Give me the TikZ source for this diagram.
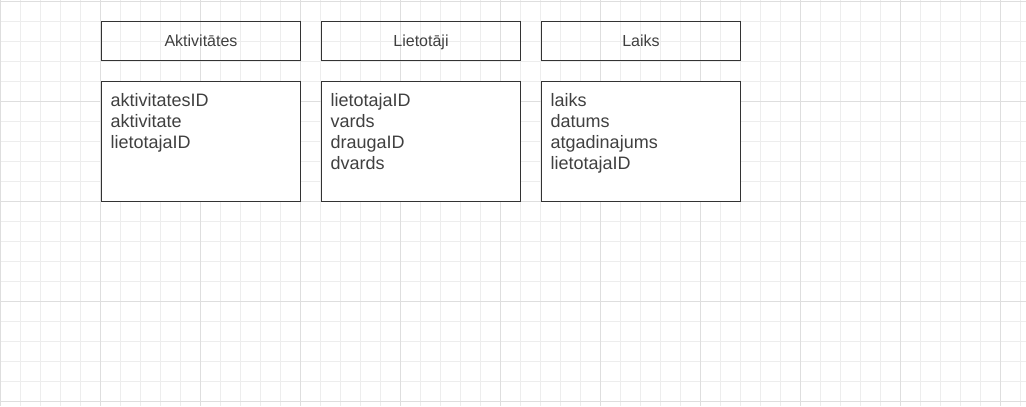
\documentclass[tikz,border=0pt]{standalone}
\usepackage{fontspec}
\setmainfont{Liberation Sans}
\usepackage{tikz}
\usetikzlibrary{positioning}
\definecolor{gridminor}{HTML}{EDEDED}
\definecolor{gridmajor}{HTML}{DEDEDE}
\definecolor{ink}{HTML}{333333}
\definecolor{label}{HTML}{404040}
\tikzset{%
	entity/.style={draw=ink, line width=1bp, rectangle, minimum width=199bp,%
		outer sep=0pt, inner sep=0pt},
	head/.style={entity, minimum height=39bp, text=label,%
		font=\fontsize{16bp}{19bp}\selectfont, text height=11.5bp, text depth=0bp},
	body/.style={entity, minimum height=120bp},
	fields/.style={anchor=north west, inner xsep=9bp, inner ysep=12bp, align=left,%
		text=label, font=\fontsize{18bp}{20.75bp}\selectfont},
	minor/.style={draw=gridminor, line width=1bp},
	major/.style={draw=gridmajor, line width=1bp}
}
\begin{document}
\begin{tikzpicture}[x=1bp, y=1bp, node distance=21bp and 21bp]
			\useasboundingbox (0,0) rectangle (1026,-406);
			\fill[white] (0,0) rectangle (1026,-406);
			\foreach \x in {0,20,...,1020} \draw[minor] (\x+0.5,0) -- (\x+0.5,-406);
			\foreach \y in {1,21,...,401} \draw[minor] (0,-\y-0.5) -- (1026,-\y-0.5);
			\foreach \x in {0,100,...,1000} \draw[major] (\x+0.5,0) -- (\x+0.5,-406);
			\foreach \y in {1,101,...,401} \draw[major] (0,-\y-0.5) -- (1026,-\y-0.5);

			\node[head] (akt) at (201,-41) {Aktivitātes};
			\node[head] (liet) [right=of akt] {Lietotāji};
			\node[head] (laiks) [right=of liet] {Laiks};
			\node[body, fill=white] (akt-b) [below=of akt] {};
			\node[body, fill=white] (liet-b) [below=of liet] {};
			\node[body, fill=white] (laiks-b) [below=of laiks] {};
			\node[fields] (akt-f) at (akt-b.north west) {aktivitatesID\\aktivitate\\lietotajaID};
			\node[fields] (liet-f) at (liet-b.north west) {lietotajaID\\vards\\draugaID\\dvards};
			\node[fields] (laiks-f) at (laiks-b.north west) {laiks\\datums\\atgadinajums\\lietotajaID};
		\end{tikzpicture}
\end{document}
